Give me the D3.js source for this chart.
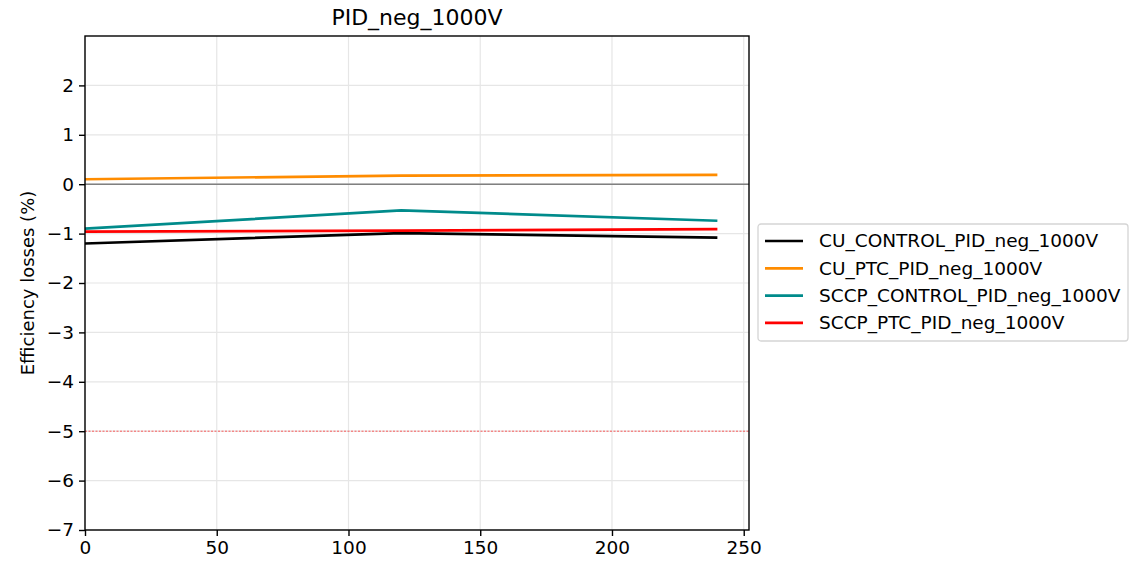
<!DOCTYPE html>
<html>
<head>
<meta charset="utf-8">
<script src="https://cdn.jsdelivr.net/npm/d3@7"></script>
<style>
  body { margin: 0; background: #fff; }
  svg text { font-family: "DejaVu Sans", sans-serif; fill: #000; }
</style>
</head>
<body>
<svg id="svg1" width="1133" height="561"></svg>
<script>
// hours of test
const hours = [0, 120, 240];
const seriesNames = ["CU_CONTROL_PID_neg_1000V", "CU_PTC_PID_neg_1000V", "SCCP_CONTROL_PID_neg_1000V", "SCCP_PTC_PID_neg_1000V"];
const cuControl = [-1.20, -0.99, -1.08];
const cuPtc = [0.10, 0.175, 0.19];
const sccpControl = [-0.90, -0.53, -0.74];
const sccpPtc = [-0.96, -0.94, -0.91];
const colors = ["#000000", "#ff8c00", "#008b8b", "#ff0000"];
const xTicks = [0, 50, 100, 150, 200, 250];
const yTicks = [-7, -6, -5, -4, -3, -2, -1, 0, 1, 2];
const limitLine = -5;

const allSeries = [cuControl, cuPtc, sccpControl, sccpPtc];

const margin = {left: 85, top: 36, right: 1133 - 749, bottom: 561 - 530};
const svg = d3.select('#svg1');
const innerWidth = 1133 - margin.left - margin.right;
const innerHeight = 561 - margin.top - margin.bottom;

const x = d3.scaleLinear().domain([0, 252]).range([0, innerWidth]);
const y = d3.scaleLinear().domain([-7, 3]).range([innerHeight, 0]);

const g = svg.append('g').attr('transform', `translate(${margin.left},${margin.top})`);

// grid
g.append('g').selectAll('line').data(xTicks).join('line')
    .attr('x1', d => x(d)).attr('x2', d => x(d))
    .attr('y1', 0).attr('y2', innerHeight)
    .attr('stroke', '#e6e6e6').attr('stroke-width', 1.2);
g.append('g').selectAll('line').data(yTicks).join('line')
    .attr('x1', 0).attr('x2', innerWidth)
    .attr('y1', d => y(d)).attr('y2', d => y(d))
    .attr('stroke', '#e6e6e6').attr('stroke-width', 1.2);

// zero line and limit line
g.append('line')
    .attr('x1', 0).attr('x2', innerWidth)
    .attr('y1', y(0)).attr('y2', y(0))
    .attr('stroke', '#808080').attr('stroke-width', 1.5);
g.append('line')
    .attr('x1', 0).attr('x2', innerWidth)
    .attr('y1', y(limitLine)).attr('y2', y(limitLine))
    .attr('stroke', '#ff0000').attr('stroke-opacity', 0.7)
    .attr('stroke-width', 0.9).attr('stroke-dasharray', '2,1.5');

// series
const line = d3.line().x((d, i) => x(hours[i])).y(d => y(d));
g.append('g').selectAll('path').data(allSeries).join('path')
    .attr('d', line)
    .attr('fill', 'none')
    .attr('stroke', (d, i) => colors[i])
    .attr('stroke-width', 2.7)
    .attr('stroke-linejoin', 'round');

// axes
const xAxis = g.append('g').attr('transform', `translate(0,${innerHeight})`)
    .call(d3.axisBottom(x).tickValues(xTicks).tickSize(6).tickPadding(5));
const yAxis = g.append('g')
    .call(d3.axisLeft(y).tickValues(yTicks).tickSize(6).tickPadding(5)
        .tickFormat(d => d < 0 ? '\u2212' + Math.abs(d) : d));
[xAxis, yAxis].forEach(a => {
    a.selectAll('text').style('font-size', '18.5px');
    a.selectAll('line').attr('stroke', '#000').attr('stroke-width', 1.4);
    a.select('.domain').remove();
});

// frame
g.append('rect')
    .attr('width', innerWidth).attr('height', innerHeight)
    .attr('fill', 'none').attr('stroke', '#000').attr('stroke-width', 1.4);

// title and label
svg.append('text')
    .attr('x', margin.left + innerWidth / 2).attr('y', 25)
    .attr('text-anchor', 'middle').style('font-size', '22px')
    .text('PID_neg_1000V');
svg.append('text')
    .attr('transform', `translate(34,${margin.top + innerHeight / 2}) rotate(-90)`)
    .attr('text-anchor', 'middle').style('font-size', '18px')
    .text('Efficiency losses (%)');

// legend
const legend = svg.append('g').attr('transform', 'translate(758,224)');
legend.append('rect')
    .attr('width', 370).attr('height', 117).attr('rx', 3)
    .attr('fill', '#fff').attr('stroke', '#d5d5d5').attr('stroke-width', 1.3);
const items = legend.selectAll('g.item').data(seriesNames).join('g')
    .attr('class', 'item')
    .attr('transform', (d, i) => `translate(0,${17 + i * 27.3})`);
items.append('line')
    .attr('x1', 7).attr('x2', 45)
    .attr('stroke', (d, i) => colors[i]).attr('stroke-width', 2.7);
items.append('text')
    .attr('x', 61).attr('dy', '0.35em')
    .style('font-size', '18.5px')
    .text(d => d);
</script>
</body>
</html>
